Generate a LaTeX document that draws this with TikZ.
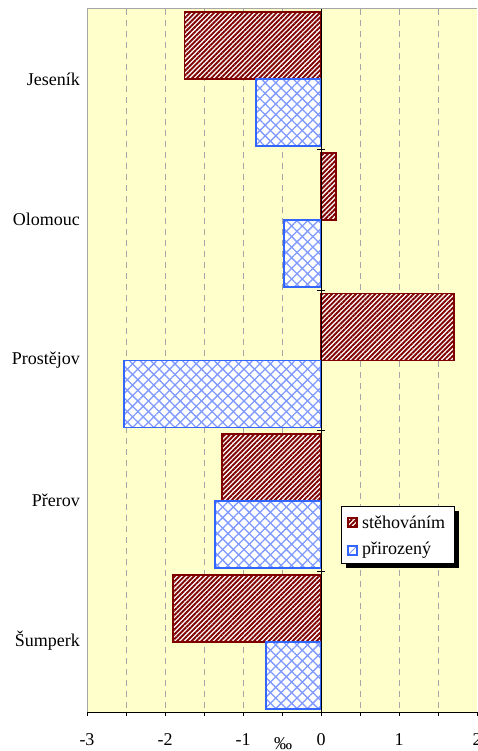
\documentclass[tikz,border=0pt]{standalone}
\usepackage{fontspec}
\setmainfont{Liberation Serif}
\usetikzlibrary{patterns.meta}
\definecolor{plotbg}{HTML}{FFFFCC}
\definecolor{redbar}{HTML}{800000}
\definecolor{bluebar}{HTML}{3366FF}
\definecolor{bluehatch}{HTML}{7F99FF}
\tikzset{
  lbl/.style={font=\fontsize{18}{21}\selectfont, inner sep=0pt},
  grid/.style={gray!70, line width=0.8pt, dash pattern=on 6pt off 5pt},
  redfill/.style={pattern={Lines[angle=45,distance=3.4pt,line width=1.9pt]}, pattern color=redbar},
  bluefillA/.style={pattern={Lines[angle=45,distance=7.5pt,line width=1.3pt]}, pattern color=bluehatch},
  bluefillB/.style={pattern={Lines[angle=-45,distance=7.5pt,line width=1.3pt]}, pattern color=bluehatch},
  redborder/.style={draw=redbar, line width=1.8pt},
  blueborder/.style={draw=bluebar, line width=1.8pt},
}
\begin{document}
\begin{tikzpicture}[x=1pt,y=-1pt]
\useasboundingbox (0,0) rectangle (477,751);
\fill[plotbg] (87,9) rectangle (477,712);
% gridlines
\foreach \v in {-2.5,-2,-1.5,-1,-0.5,0.5,1,1.5}
  \draw[grid] ({321+78*\v},9) -- ({321+78*\v},712);
% plot border
\draw[gray!70, line width=1pt] (87,712) -- (87,9) -- (477,9);
% bars: category index, red value, blue value
\foreach \i/\r/\b in {0/-1.75/-0.83, 1/0.19/-0.47, 2/1.71/-2.53, 3/-1.27/-1.36, 4/-1.9/-0.71} {
  \pgfmathsetmacro{\top}{9+140.6*\i}
  \pgfmathsetmacro{\rx}{321+78*\r}
  \pgfmathsetmacro{\bx}{321+78*\b}
  \fill[white] (321,{\top+3.3}) rectangle (\rx,{\top+70.3});
  \fill[redfill] (321,{\top+3.3}) rectangle (\rx,{\top+70.3});
  \draw[redborder] (321,{\top+3.3}) rectangle (\rx,{\top+70.3});
  \fill[white] (321,{\top+70.3}) rectangle (\bx,{\top+137.3});
  \fill[bluefillA] (321,{\top+70.3}) rectangle (\bx,{\top+137.3});
  \fill[bluefillB] (321,{\top+70.3}) rectangle (\bx,{\top+137.3});
  \draw[blueborder] (321,{\top+70.3}) rectangle (\bx,{\top+137.3});
}
% axes
\draw[black, line width=1pt] (87,712) -- (477,712);
\foreach \v in {-3,-2.5,...,2}
  \draw[black, line width=1pt] ({321+78*\v},712) -- ({321+78*\v},716);
\draw[black, line width=1pt] (321,9) -- (321,712);
\foreach \i in {1,2,3,4}
  \draw[black, line width=1pt] (317,{9+140.6*\i}) -- (325,{9+140.6*\i});
% category labels
\node[lbl, anchor=east] (jes) at (80,79) {Jeseník};
\node[lbl, anchor=east] (olo) at (80,219) {Olomouc};
\node[lbl, anchor=east] (pro) at (80,360) {Prostějov};
\node[lbl, anchor=east] (pre) at (80,500) {Přerov};
\node[lbl, anchor=east] (sum) at (80,641) {Šumperk};
% x tick labels
\foreach \v/\t in {-3/-3,-2/-2,-1/-1,0/0,1/1,2/2}
  \node[lbl] (x\v) at ({321+78*\v},740) {\t};
\node[lbl] (unit) at (283,744) {‰};
% legend
\fill[black] (345.7,510.7) rectangle (458.5,567.8);
\draw[black, fill=white, line width=0.8pt] (341.7,506.7) rectangle (454,563.3);
\fill[white] (348,518) rectangle (357,527);
\fill[pattern={Lines[angle=45,distance=3.4pt,line width=1.9pt]}, pattern color=redbar] (348,518) rectangle (357,527);
\draw[redbar, line width=1.5pt] (348,518) rectangle (357,527);
\fill[white] (348,546) rectangle (357,555);
\draw[bluehatch, line width=1pt] (348,555) -- (357,546);
\draw[bluebar, line width=1.5pt] (348,546) rectangle (357,555);
\node[lbl, anchor=west] (leg1) at (362,522.5) {stěhováním};
\node[lbl, anchor=west] (leg2) at (362,550.5) {přirozený};
\end{tikzpicture}
\end{document}
